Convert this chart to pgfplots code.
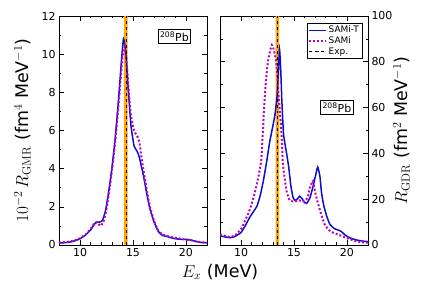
\documentclass[border=0pt]{standalone}
\usepackage[no-math]{fontspec}
\setmainfont{DejaVu Sans}
\usepackage{pgfplots}
\pgfplotsset{compat=1.18}
\definecolor{cblue}{rgb}{0.05,0.05,0.8}
\definecolor{cmag}{rgb}{0.75,0,0.75}
\definecolor{corange}{rgb}{1,0.65,0}
\begin{document}
\begin{tikzpicture}
\pgfplotsset{
  every axis/.append style={
    scale only axis, width=148bp, height=229bp,
    xmin=8, xmax=22,
    xtick={10,15,20}, minor x tick num=4,
    major tick length=5bp, minor tick length=2.5bp,
    tick style={black, line width=0.6bp},
    axis line style={line width=0.8bp},
    ticklabel style={font=\fontsize{11}{13}\selectfont},
    /pgf/number format/assume math mode=true,
    label style={font=\fontsize{17.5}{20}\selectfont},
  }
}
\path[use as bounding box] (-59bp,-55bp) rectangle (377bp,245bp);
% left panel
\begin{axis}[at={(0bp,0bp)}, anchor=south west,
  ymin=0, ymax=12, ytick={0,2,4,6,8,10,12}, minor y tick num=1,
  ylabel={$10^{-2}\,R_{\mathrm{GMR}}$ (fm$^4$ MeV$^{-1}$)},
  ylabel style={at={(ticklabel cs:0.5)}, yshift=4bp},
]
\addplot[fill=corange, draw=none, forget plot] coordinates {(14.15,0) (14.5,0) (14.5,12) (14.15,12)} \closedcycle;
\addplot[cblue, line width=1.5bp, smooth, tension=0.3] coordinates {
(8.0,0.10) (8.5,0.12) (9.0,0.15) (9.5,0.22) (10.0,0.33) (10.5,0.52) (11.0,0.80) (11.3,1.05) (11.5,1.18) (11.8,1.20) (12.1,1.28) (12.4,1.8) (12.7,2.8) (13.0,4.0) (13.3,5.5) (13.6,7.4) (13.9,9.6) (14.1,10.8) (14.3,10.2) (14.5,8.6) (14.8,6.3) (15.1,5.2) (15.4,4.9) (15.6,4.6) (15.8,4.1) (16.0,3.6) (16.3,2.7) (16.6,1.9) (17.0,1.2) (17.4,0.7) (17.8,0.5) (18.2,0.45) (18.6,0.38) (19.0,0.33) (19.5,0.30) (20.0,0.30) (20.5,0.25) (21.0,0.18) (21.5,0.13) (22.0,0.12)};
\addplot[cmag, line width=2bp, dotted, smooth, tension=0.3] coordinates {
(8.0,0.12) (8.5,0.15) (9.0,0.18) (9.5,0.25) (10.0,0.35) (10.5,0.55) (11.0,0.85) (11.3,1.1) (11.6,1.2) (11.9,1.0) (12.2,1.2) (12.5,1.9) (12.8,3.0) (13.1,4.3) (13.4,5.9) (13.7,7.8) (14.0,9.8) (14.2,10.4) (14.4,9.6) (14.6,8.0) (14.8,6.8) (15.1,6.0) (15.4,5.7) (15.6,5.4) (15.8,4.6) (16.0,3.9) (16.3,2.9) (16.6,2.0) (17.0,1.25) (17.4,0.75) (17.8,0.55) (18.2,0.48) (18.6,0.42) (19.0,0.38) (19.5,0.33) (20.0,0.28) (20.5,0.25) (21.0,0.18) (21.5,0.14) (22.0,0.12)};
\addplot[black, dashed, line width=0.7bp] coordinates {(14.33,0) (14.33,12)};
\node[draw, line width=0.6bp, inner sep=2bp, font=\fontsize{11}{13}\selectfont] at (rel axis cs:0.78,0.91) {\textsuperscript{208}Pb};
\end{axis}
% right panel
\begin{axis}[at={(161bp,0bp)}, anchor=south west,
  ymin=0, ymax=100, ytick={0,20,40,60,80,100}, minor y tick num=1,
  yticklabel pos=right,
  ylabel={$R_{\mathrm{GDR}}$ (fm$^2$ MeV$^{-1}$)},
  ylabel style={xshift=0bp, yshift=6bp},
  legend style={at={(0.96,0.97)}, anchor=north east, font=\fontsize{9}{10}\selectfont, draw=black, line width=0.5bp, inner sep=1bp, row sep=-1.5bp},
  legend cell align=left,
  legend image post style={line width=1.2bp},
]
\addplot[fill=corange, draw=none, forget plot] coordinates {(13.25,0) (13.6,0) (13.6,100) (13.25,100)} \closedcycle;
\addplot[cblue, line width=1.5bp, smooth, tension=0.3] coordinates {
(8.0,4.0) (8.5,3.5) (8.9,3.2) (9.3,3.5) (9.7,4.5) (10.0,5.5) (10.4,8.5) (10.8,12.0) (11.2,14.8) (11.5,17.0) (11.8,21.5) (12.1,28) (12.4,36) (12.7,45) (13.0,52) (13.2,57) (13.4,65) (13.52,75) (13.63,85.5) (13.75,76) (13.85,63) (14.0,49) (14.15,44) (14.3,40) (14.5,34) (14.7,26) (14.9,21) (15.07,19.5) (15.3,20.0) (15.55,21.3) (15.8,20.0) (16.0,18.5) (16.2,18.2) (16.5,20.5) (16.8,25.5) (17.0,29.5) (17.24,34) (17.45,30) (17.6,23) (17.8,17.5) (18.1,12.5) (18.4,9.0) (18.8,7.2) (19.2,6.5) (19.5,5.8) (19.8,4.5) (20.2,3.3) (20.6,2.6) (21.0,2.1) (21.5,1.7) (22.0,1.5)};
\addlegendentry{SAMi-T}
\addplot[cmag, line width=2bp, dotted, smooth, tension=0.3] coordinates {
(8.0,4.6) (8.5,4.0) (9.0,3.5) (9.5,4.5) (10.0,7) (10.3,10) (10.7,14) (11.0,18) (11.3,23) (11.6,29) (11.9,37) (12.06,50) (12.2,62) (12.38,73.6) (12.6,82) (12.9,87.4) (13.1,85) (13.33,79.4) (13.55,65) (13.8,50) (13.96,35) (14.3,23.5) (14.6,19.5) (15.0,19) (15.5,19.5) (16.0,19) (16.3,21) (16.5,25) (16.8,27.9) (17.0,23) (17.3,17.7) (17.6,13) (17.9,9) (18.3,6.5) (18.7,5.4) (19.2,4.5) (19.6,3.8) (20.0,3.0) (20.5,2.2) (21.0,1.5) (21.5,1.2) (22.0,1.0)};
\addlegendentry{SAMi}
\addplot[black, dashed, line width=0.7bp] coordinates {(13.43,0) (13.43,100)};
\addlegendentry{Exp.}
\node[draw, line width=0.6bp, inner sep=2bp, font=\fontsize{11}{13}\selectfont] at (rel axis cs:0.79,0.60) {\textsuperscript{208}Pb};
\end{axis}
\node[font=\fontsize{17.5}{20}\selectfont] at (161bp,-27bp) {$E_x$ (MeV)};
\end{tikzpicture}
\end{document}
